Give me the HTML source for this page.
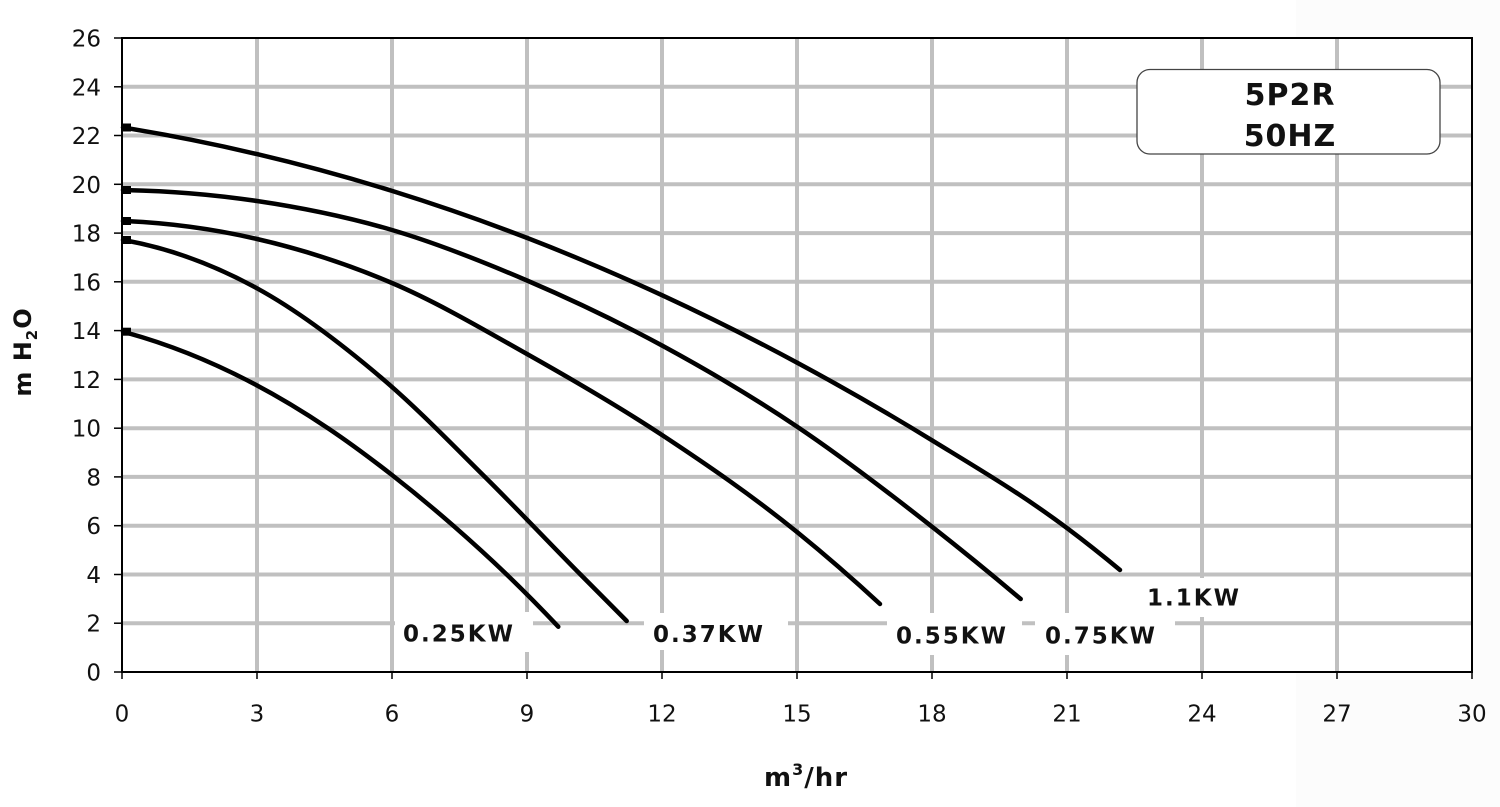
<!DOCTYPE html>
<html><head><meta charset="utf-8"><style>
html,body{margin:0;padding:0;background:#fff;}
svg{display:block;}
text{font-family:"DejaVu Sans","Liberation Sans",sans-serif;fill:#111;}
.t{font-size:23px;}
.b{font-weight:bold;}
</style></head><body>
<svg id="chart" width="1500" height="807" viewBox="0 0 1500 807" xmlns="http://www.w3.org/2000/svg">
<rect x="0" y="0" width="1500" height="807" fill="#fff"/>
<rect x="1296" y="0" width="204" height="807" fill="#fcfcfc"/>
<rect x="122" y="38" width="1350" height="634" fill="#fff"/>
<!-- grid -->
<g stroke="#c0c0c0" stroke-width="4">
<line x1="122" y1="623.2" x2="1472" y2="623.2"/>
<line x1="122" y1="574.5" x2="1472" y2="574.5"/>
<line x1="122" y1="525.7" x2="1472" y2="525.7"/>
<line x1="122" y1="476.9" x2="1472" y2="476.9"/>
<line x1="122" y1="428.2" x2="1472" y2="428.2"/>
<line x1="122" y1="379.4" x2="1472" y2="379.4"/>
<line x1="122" y1="330.6" x2="1472" y2="330.6"/>
<line x1="122" y1="281.8" x2="1472" y2="281.8"/>
<line x1="122" y1="233.1" x2="1472" y2="233.1"/>
<line x1="122" y1="184.3" x2="1472" y2="184.3"/>
<line x1="122" y1="135.5" x2="1472" y2="135.5"/>
<line x1="122" y1="86.8" x2="1472" y2="86.8"/>
<line x1="257" y1="38" x2="257" y2="672"/>
<line x1="392" y1="38" x2="392" y2="672"/>
<line x1="527" y1="38" x2="527" y2="672"/>
<line x1="662" y1="38" x2="662" y2="672"/>
<line x1="797" y1="38" x2="797" y2="672"/>
<line x1="932" y1="38" x2="932" y2="672"/>
<line x1="1067" y1="38" x2="1067" y2="672"/>
<line x1="1202" y1="38" x2="1202" y2="672"/>
<line x1="1337" y1="38" x2="1337" y2="672"/>
</g>
<!-- label boxes -->
<g fill="#fff">
<rect x="395" y="612" width="138" height="40"/>
<rect x="644" y="613" width="144" height="37"/>
<rect x="887" y="613" width="135" height="42"/>
<rect x="1035" y="613" width="140" height="42"/>
<rect x="1135" y="578" width="112" height="39"/>
</g>
<!-- frame -->
<rect x="122" y="38" width="1350" height="634" fill="none" stroke="#000" stroke-width="2"/>
<g stroke="#000" stroke-width="1.5">
<line x1="114" y1="672" x2="122" y2="672"/>
<line x1="114" y1="623.2" x2="122" y2="623.2"/>
<line x1="114" y1="574.5" x2="122" y2="574.5"/>
<line x1="114" y1="525.7" x2="122" y2="525.7"/>
<line x1="114" y1="476.9" x2="122" y2="476.9"/>
<line x1="114" y1="428.2" x2="122" y2="428.2"/>
<line x1="114" y1="379.4" x2="122" y2="379.4"/>
<line x1="114" y1="330.6" x2="122" y2="330.6"/>
<line x1="114" y1="281.8" x2="122" y2="281.8"/>
<line x1="114" y1="233.1" x2="122" y2="233.1"/>
<line x1="114" y1="184.3" x2="122" y2="184.3"/>
<line x1="114" y1="135.5" x2="122" y2="135.5"/>
<line x1="114" y1="86.8" x2="122" y2="86.8"/>
<line x1="114" y1="38" x2="122" y2="38"/>
<line x1="122" y1="672" x2="122" y2="679"/>
<line x1="257" y1="672" x2="257" y2="679"/>
<line x1="392" y1="672" x2="392" y2="679"/>
<line x1="527" y1="672" x2="527" y2="679"/>
<line x1="662" y1="672" x2="662" y2="679"/>
<line x1="797" y1="672" x2="797" y2="679"/>
<line x1="932" y1="672" x2="932" y2="679"/>
<line x1="1067" y1="672" x2="1067" y2="679"/>
<line x1="1202" y1="672" x2="1202" y2="679"/>
<line x1="1337" y1="672" x2="1337" y2="679"/>
<line x1="1472" y1="672" x2="1472" y2="679"/>
</g>
<!-- y labels -->
<g class="t" text-anchor="end">
<text x="101" y="680.5">0</text>
<text x="101" y="631.7">2</text>
<text x="101" y="583">4</text>
<text x="101" y="534.2">6</text>
<text x="101" y="485.4">8</text>
<text x="101" y="436.7">10</text>
<text x="101" y="387.9">12</text>
<text x="101" y="339.1">14</text>
<text x="101" y="290.3">16</text>
<text x="101" y="241.6">18</text>
<text x="101" y="192.8">20</text>
<text x="101" y="144">22</text>
<text x="101" y="95.3">24</text>
<text x="101" y="46.5">26</text>
</g>
<!-- x labels -->
<g class="t" text-anchor="middle">
<text x="122" y="721.5">0</text>
<text x="257" y="721.5">3</text>
<text x="392" y="721.5">6</text>
<text x="527" y="721.5">9</text>
<text x="662" y="721.5">12</text>
<text x="797" y="721.5">15</text>
<text x="932" y="721.5">18</text>
<text x="1067" y="721.5">21</text>
<text x="1202" y="721.5">24</text>
<text x="1337" y="721.5">27</text>
<text x="1472" y="721.5">30</text>
</g>
<!-- axis titles -->
<text x="806" y="786" class="b" font-size="26" text-anchor="middle" letter-spacing="1">m<tspan font-size="16" dy="-11">3</tspan><tspan dy="11">/hr</tspan></text>
<text transform="translate(31,352) rotate(-90)" class="b" font-size="24" text-anchor="middle" letter-spacing="1">m H<tspan font-size="15" dy="6">2</tspan><tspan dy="-6">O</tspan></text>
<!-- curves -->
<g id="curves" fill="none" stroke="#000" stroke-width="4.5" stroke-linejoin="round" stroke-linecap="round">
<polyline points="123,127.5 257,154.1 392,190.9 527,237.9 662,295.2 797,362.6 932,440.3 1067,528.1 1120,570"/>
<polyline points="123,190 257,201 392,230 527,280.5 662,345.5 797,426.6 932,526.7 1020.7,599"/>
<polyline points="123,221 257,239 392,283 527,354 662,435 797,532 880,604"/>
<polyline points="123,240 257,288.3 383.3,379.4 485,477 580,574 626.7,621"/>
<polyline points="123,331.7 250,381.7 328,428.2 392,475 453.3,525.7 506.7,574.5 558.3,626.7"/>
</g>
<g fill="#000">
<rect x="122" y="123.5" width="9" height="8"/>
<rect x="122" y="186" width="9" height="8"/>
<rect x="122" y="217" width="9" height="8"/>
<rect x="122" y="236" width="9" height="8"/>
<rect x="122" y="327.7" width="9" height="8"/>
</g>
<!-- series labels -->
<g class="b" font-size="23" letter-spacing="2">
<text x="403" y="641.5">0.25KW</text>
<text x="653" y="642">0.37KW</text>
<text x="896" y="643.5">0.55KW</text>
<text x="1045" y="643.5">0.75KW</text>
<text x="1147" y="605.5">1.1KW</text>
</g>
<!-- title box -->
<rect x="1137" y="69.5" width="303" height="84.5" rx="13" ry="13" fill="#fff" stroke="#444" stroke-width="1.3"/>
<g class="b" font-size="30" text-anchor="middle" letter-spacing="1">
<text x="1290" y="105">5P2R</text>
<text x="1290" y="146">50HZ</text>
</g>
</svg>
<script>
(function(){
  var NS="http://www.w3.org/2000/svg";
  var g=document.getElementById("curves");
  var pls=Array.prototype.slice.call(g.getElementsByTagName("polyline"));
  pls.forEach(function(pl){
    var P=pl.getAttribute("points").trim().split(/\s+/).map(function(s){var a=s.split(",");return [parseFloat(a[0]),parseFloat(a[1])];});
    var n=P.length,h=[],d=[],m=[],i;
    for(i=0;i<n-1;i++){h[i]=P[i+1][0]-P[i][0];d[i]=(P[i+1][1]-P[i][1])/h[i];}
    for(i=1;i<n-1;i++){m[i]=(d[i-1]*h[i]+d[i]*h[i-1])/(h[i-1]+h[i]);}
    m[0]=2*d[0]-m[1];
    m[n-1]=2*d[n-2]-m[n-2];
    var f=function(v){return v.toFixed(2);};
    var s="M"+f(P[0][0])+","+f(P[0][1]);
    for(i=0;i<n-1;i++){
      var k=h[i]/3;
      s+=" C"+f(P[i][0]+k)+","+f(P[i][1]+m[i]*k)+" "+f(P[i+1][0]-k)+","+f(P[i+1][1]-m[i+1]*k)+" "+f(P[i+1][0])+","+f(P[i+1][1]);
    }
    var p=document.createElementNS(NS,"path");
    p.setAttribute("d",s);
    g.replaceChild(p,pl);
  });
})();
</script>
</body></html>
